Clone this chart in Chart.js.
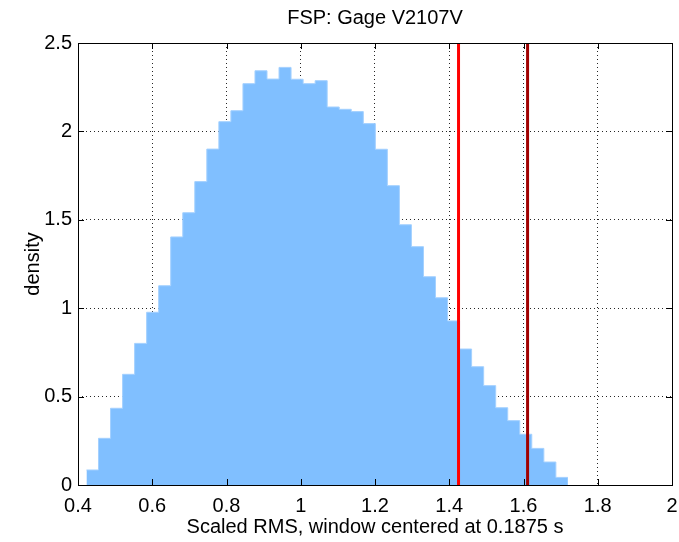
<!DOCTYPE html>
<html>
<head>
<meta charset="utf-8">
<title>FSP: Gage V2107V</title>
<script src="https://cdn.jsdelivr.net/npm/chart.js@4.4.1/dist/chart.umd.min.js"></script>
<style>
    html, body { margin: 0; padding: 0; background: #fff; }
    #wrap { width: 679px; height: 542px; }
</style>
</head>
<body>
<div id="wrap"><canvas id="chart" width="679" height="542"></canvas></div>
<script>
// Histogram bin edges (Scaled RMS) and density per bin
const binEdges = [
    0.4228, 0.4552, 0.4876, 0.5201, 0.5525, 0.5849, 0.6173, 0.6497, 0.6822, 0.7146,
    0.7470, 0.7794, 0.8118, 0.8443, 0.8767, 0.9091, 0.9415, 0.9739, 1.0064, 1.0388,
    1.0712, 1.1036, 1.1360, 1.1685, 1.2009, 1.2333, 1.2657, 1.2981, 1.3306, 1.3630,
    1.3954, 1.4278, 1.4602, 1.4927, 1.5251, 1.5575, 1.5899, 1.6223, 1.6548, 1.6872,
    1.7196
];
const density = [
    0.085, 0.264, 0.434, 0.626, 0.801, 0.977, 1.127, 1.403, 1.540, 1.716,
    1.900, 2.055, 2.117, 2.270, 2.343, 2.296, 2.362, 2.295, 2.270, 2.287,
    2.138, 2.125, 2.112, 2.044, 1.899, 1.693, 1.472, 1.348, 1.178, 1.059,
    0.928, 0.769, 0.669, 0.562, 0.437, 0.364, 0.287, 0.207, 0.130, 0.043
];

// Threshold markers (x position) drawn as vertical lines
const thresholdRed = 1.425;
const thresholdDark = 1.611;

const xTicks = { min: 0.4, max: 2, step: 0.2 };
const yTicks = { min: 0, max: 2.5, step: 0.5 };

const TITLE = 'FSP: Gage V2107V';
const FONT = 'Liberation Sans, Arial, Helvetica, sans-serif';

function fmt(v) {
    return String(Number(v.toFixed(2)));
}

function vline(x) {
    return [{ x: x, y: yTicks.min }, { x: x, y: yTicks.max }];
}

/** Step outline: each bin's value held from its left edge to the next edge. */
function histPoints() {
    const pts = density.map((d, i) => ({ x: binEdges[i], y: d }));
    pts.push({ x: binEdges[binEdges.length - 1], y: density[density.length - 1] });
    return pts;
}

// Matlab-like box: solid frame plus inward tick marks on all four sides
const boxPlugin = {
    id: 'box',
    afterDatasetsDraw(chart) {
        const { ctx, chartArea: a, scales } = chart;
        const len = 6;
        ctx.save();
        ctx.strokeStyle = '#000';
        ctx.lineWidth = 1;
        ctx.beginPath();
        scales.x.ticks.forEach((t) => {
            const px = Math.round(scales.x.getPixelForValue(t.value)) + 0.5;
            ctx.moveTo(px, a.bottom);
            ctx.lineTo(px, a.bottom - len);
            ctx.moveTo(px, a.top);
            ctx.lineTo(px, a.top + len);
        });
        scales.y.ticks.forEach((t) => {
            const py = Math.round(scales.y.getPixelForValue(t.value)) + 0.5;
            ctx.moveTo(a.left, py);
            ctx.lineTo(a.left + len, py);
            ctx.moveTo(a.right, py);
            ctx.lineTo(a.right - len, py);
        });
        ctx.stroke();
        ctx.strokeRect(Math.round(a.left) + 0.5, Math.round(a.top) + 0.5,
            Math.round(a.right - a.left), Math.round(a.bottom - a.top));

        // title centred over the axes box
        ctx.fillStyle = '#000';
        ctx.font = '20px ' + FONT;
        ctx.textAlign = 'center';
        ctx.textBaseline = 'middle';
        ctx.fillText(TITLE, (a.left + a.right) / 2, 18);
        ctx.restore();
    }
};

const dotted = 'rgba(0, 0, 0, 0.85)';

new Chart(document.getElementById('chart'), {
    type: 'line',
    data: {
        datasets: [
            {
                label: 'density',
                data: histPoints(),
                stepped: true,
                borderColor: '#a4d1ff',
                borderWidth: 1,
                backgroundColor: '#80bfff',
                fill: 'origin',
                pointRadius: 0,
                order: 2
            },
            {
                label: 'threshold 1',
                data: vline(thresholdRed),
                borderColor: '#ff0000',
                borderWidth: 3,
                pointRadius: 0,
                fill: false,
                order: 1
            },
            {
                label: 'threshold 2',
                data: vline(thresholdDark),
                borderColor: '#a00000',
                borderWidth: 3,
                pointRadius: 0,
                fill: false,
                order: 0
            }
        ]
    },
    options: {
        responsive: false,
        animation: false,
        events: [],
        layout: { padding: { left: 0, right: 7, top: 43, bottom: 0 } },
        plugins: {
            legend: { display: false },
            tooltip: { enabled: false },
            title: { display: false }
        },
        scales: {
            x: {
                type: 'linear',
                min: xTicks.min,
                max: xTicks.max,
                offset: false,
                afterFit(scale) { scale.height = 57; },
                ticks: {
                    stepSize: xTicks.step,
                    autoSkip: false,
                    maxRotation: 0,
                    color: '#000',
                    padding: 0,
                    font: { family: FONT, size: 20 },
                    callback: (v) => fmt(v)
                },
                // invisible outward ticks only push the labels down
                grid: {
                    color: dotted,
                    lineWidth: 1,
                    drawTicks: true,
                    tickLength: 9,
                    tickColor: 'rgba(0, 0, 0, 0)'
                },
                border: { display: false, dash: [1, 3] },
                title: {
                    display: true,
                    text: 'Scaled RMS, window centered at 0.1875 s',
                    color: '#000',
                    font: { family: FONT, size: 20 },
                    padding: { top: 0, bottom: 3 }
                }
            },
            y: {
                min: yTicks.min,
                max: yTicks.max,
                afterFit(scale) { scale.width = 78; },
                ticks: {
                    stepSize: yTicks.step,
                    color: '#000',
                    padding: 6,
                    font: { family: FONT, size: 20 },
                    callback: (v) => fmt(v)
                },
                grid: { color: dotted, lineWidth: 1, drawTicks: false },
                border: { display: false, dash: [1, 3] },
                title: {
                    display: true,
                    text: 'density',
                    color: '#000',
                    font: { family: FONT, size: 20 },
                    padding: { top: 21, bottom: 0 }
                }
            }
        }
    },
    plugins: [boxPlugin]
});
</script>
</body>
</html>
